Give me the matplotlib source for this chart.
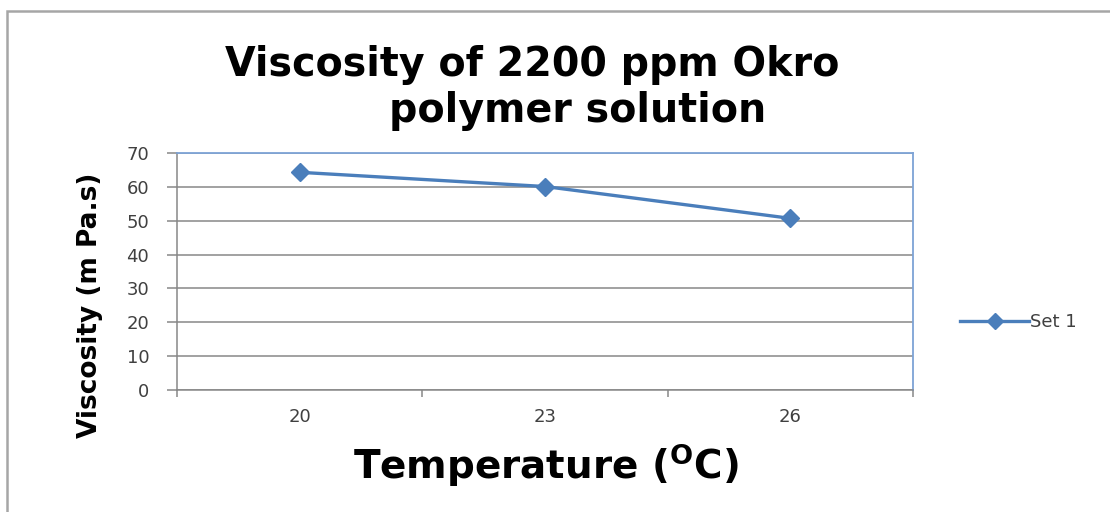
import numpy as np
import matplotlib
matplotlib.use('Agg')
import matplotlib.pyplot as plt
from matplotlib.patches import Rectangle

# dati
temperature = ['20', '23', '26']
viscosita = [64.3, 60.1, 50.7]
y_ticks = [0, 10, 20, 30, 40, 50, 60, 70]

W, H = 1110, 512
fig = plt.figure(figsize=(W / 100, H / 100), dpi=100)
fig.patch.set_facecolor('white')

# cornice esterna del grafico (stile Excel)
fig.patches.append(Rectangle((7 / W, -0.1), 1.2, (H - 11) / H + 0.1, transform=fig.transFigure,
                             fill=False, edgecolor='#a6a6a6', linewidth=1.8))

ax = fig.add_axes([177 / W, (H - 390) / H, 736 / W, 237 / H])
x = np.arange(len(temperature))
ax.plot(x, viscosita, color='#4a7ebb', linewidth=2.4, marker='D', markersize=9,
        label='Set 1', zorder=3)

ax.set_ylim(0, 70)
ax.set_yticks(y_ticks)
ax.set_xlim(-0.5, len(temperature) - 0.5)
ax.set_xticks(np.arange(len(temperature) + 1) - 0.5)
ax.set_xticklabels([])
ax.set_xticks(x, minor=True)
ax.set_xticklabels(temperature, minor=True)

ax.grid(axis='y', color='#878787', linewidth=1.1)
ax.set_axisbelow(True)
ax.tick_params(axis='y', length=7, width=1.1, color='#878787', pad=13,
               labelsize=13, labelcolor='#404040')
ax.tick_params(axis='x', which='major', length=5, width=1.1, color='#878787')
ax.tick_params(axis='x', which='minor', length=0, pad=13, labelsize=13, labelcolor='#404040')

for s in ['left', 'bottom']:
    ax.spines[s].set_color('#878787')
    ax.spines[s].set_linewidth(1.1)
for s in ['top', 'right']:
    ax.spines[s].set_color('#7da3d6')
    ax.spines[s].set_linewidth(1.3)

# titolo su due righe
fig.text(532 / W, 1 - 65 / H, 'Viscosity of 2200 ppm Okro', ha='center', va='center',
         fontsize=28.5, fontweight='bold', color='black')
fig.text(578 / W, 1 - 111 / H, 'polymer solution', ha='center', va='center',
         fontsize=28.5, fontweight='bold', color='black')

# etichette assi
fig.text(546 / W, 1 - 465 / H, r'Temperature ($^{\mathbf{O}}$C)', ha='center', va='center',
         fontsize=28, fontweight='bold', color='black')
fig.text(90 / W, 1 - 305 / H, 'Viscosity (m Pa.s)', ha='center', va='center', rotation=90,
         fontsize=19, fontweight='bold', color='black')

# legenda
fig.legend(loc='center left', bbox_to_anchor=(944 / W, 1 - 322 / H), frameon=False,
           fontsize=13, handlelength=3.8, handletextpad=0.05, markerscale=0.85,
           labelcolor='#404040')

fig.savefig('out.png', dpi=100, facecolor='white')
